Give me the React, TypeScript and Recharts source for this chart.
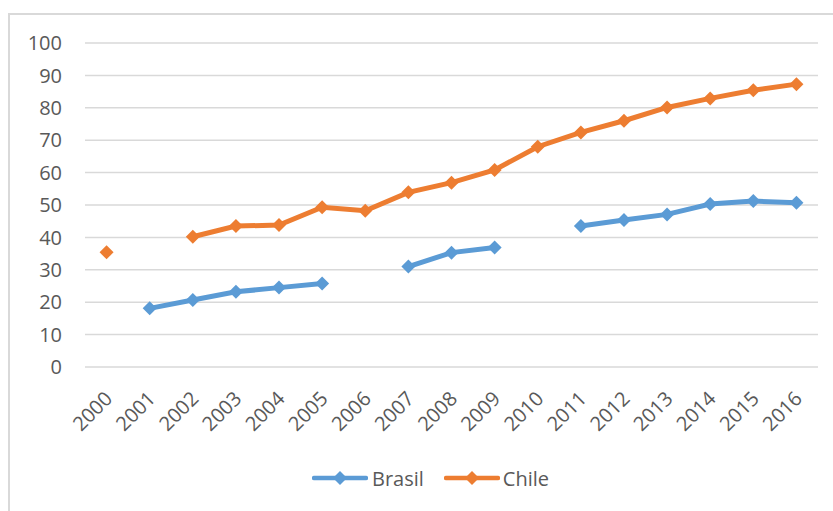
import React from "react";
import { LineChart, Line, XAxis, YAxis, CartesianGrid, Legend } from "recharts";

const years = ["2000","2001","2002","2003","2004","2005","2006","2007","2008","2009","2010","2011","2012","2013","2014","2015","2016"];
const brasil: (number | null)[] = [null, 18.1, 20.7, 23.2, 24.5, 25.8, null, 31.0, 35.3, 36.9, null, 43.5, 45.4, 47.1, 50.3, 51.2, 50.7];
const chile: (number | null)[] = [35.4, null, 40.2, 43.5, 43.8, 49.3, 48.2, 53.9, 56.9, 60.8, 68.0, 72.4, 76.0, 80.1, 82.9, 85.4, 87.3];
const yTicks = [0, 10, 20, 30, 40, 50, 60, 70, 80, 90, 100];

const BLUE = "#5B9BD5";
const ORANGE = "#ED7D31";
const TEXT = "#595959";
const GRID = "#D9D9D9";
const FONT = "'Open Sans', 'Noto Sans', sans-serif";

const data = years.map((y, i) => ({ year: y, Brasil: brasil[i], Chile: chile[i] }));

// half of one category band, so points sit in the middle of each band
const HALF_BAND = 733 / years.length / 2;

const Diamond = (props: any) => {
  const { cx, cy, fill, value } = props;
  if (value == null || cx == null || cy == null) return null;
  const r = 7;
  return (
    <polygon
      points={`${cx},${cy - r} ${cx + r},${cy} ${cx},${cy + r} ${cx - r},${cy}`}
      fill={fill}
    />
  );
};

const XTick = (props: any) => {
  const { x, y, payload } = props;
  const ax = x + 7;
  const ay = y + 33;
  return (
    <text
      x={ax}
      y={ay}
      transform={`rotate(-45, ${ax}, ${ay})`}
      textAnchor="end"
      fill={TEXT}
      fontSize={20}
      fontFamily={FONT}
    >
      {payload.value}
    </text>
  );
};

const LegendIcon = ({ color }: { color: string }) => (
  <svg width={56} height={16} style={{ display: "block" }}>
    <line x1={2} y1={8} x2={54} y2={8} stroke={color} strokeWidth={4.5} strokeLinecap="round" />
    <polygon points="28,1 35,8 28,15 21,8" fill={color} />
  </svg>
);

const LegendContent = () => (
  <div style={{ display: "flex", alignItems: "center", height: 66, paddingLeft: 312, fontFamily: FONT, fontSize: 20, color: TEXT }}>
    <div style={{ display: "flex", alignItems: "center" }}>
      <LegendIcon color={BLUE} />
      <span style={{ marginLeft: 4 }}>Brasil</span>
    </div>
    <div style={{ display: "flex", alignItems: "center", marginLeft: 20 }}>
      <LegendIcon color={ORANGE} />
      <span style={{ marginLeft: 3 }}>Chile</span>
    </div>
  </div>
);

export default function App() {
  return (
    <div style={{ position: "absolute", left: 0, top: 0, width: 833, height: 511, background: "#fff" }}>
      <div
        style={{
          position: "absolute",
          left: 8,
          top: 13,
          width: 833,
          height: 511,
          borderLeft: `2px solid ${GRID}`,
          borderTop: `2px solid ${GRID}`,
        }}
      />
      <LineChart
        width={833}
        height={511}
        data={data}
        margin={{ top: 43, right: 15, left: 0, bottom: 0 }}
        style={{ position: "absolute", left: 0, top: 0 }}
      >
        <CartesianGrid vertical={false} stroke={GRID} strokeWidth={1.5} />
        <XAxis
          dataKey="year"
          axisLine={false}
          tickLine={false}
          tickSize={0}
          tickMargin={0}
          interval={0}
          height={78}
          padding={{ left: HALF_BAND, right: HALF_BAND }}
          tick={<XTick />}
        />
        <YAxis
          domain={[0, 100]}
          ticks={yTicks}
          width={85}
          axisLine={false}
          tickLine={false}
          tickSize={0}
          tickMargin={23}
          tick={{ fill: TEXT, fontSize: 20, fontFamily: FONT }}
        />
        <Legend verticalAlign="bottom" height={66} content={<LegendContent />} />
        <Line
          type="linear"
          dataKey="Brasil"
          stroke={BLUE}
          strokeWidth={5}
          dot={<Diamond fill={BLUE} />}
          activeDot={false}
          connectNulls={false}
          isAnimationActive={false}
        />
        <Line
          type="linear"
          dataKey="Chile"
          stroke={ORANGE}
          strokeWidth={5}
          dot={<Diamond fill={ORANGE} />}
          activeDot={false}
          connectNulls={false}
          isAnimationActive={false}
        />
      </LineChart>
    </div>
  );
}
